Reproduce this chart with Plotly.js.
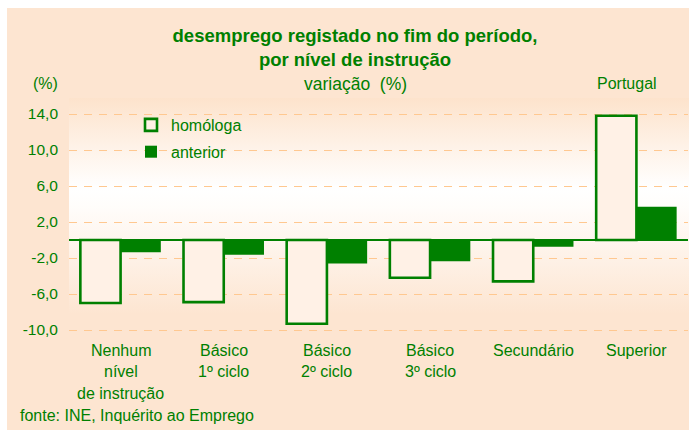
<!DOCTYPE html>
<html>
<head>
<meta charset="utf-8">
<script src="https://cdn.plot.ly/plotly-3.0.1.min.js"></script>
<style>
  html, body { margin: 0; padding: 0; background: #ffffff; }
  #wrap { position: relative; width: 689px; height: 430px; overflow: hidden; }
  #peach { position: absolute; left: 7px; top: 8px; right: 0; bottom: 0; background: #FDE5D1; }
  #grad { position: absolute; left: 69px; top: 98px; width: 620px; height: 216px;
          background: linear-gradient(to bottom, #FDE3CC 0%, #FFFFFF 42%, #FFFDFB 50%, #FDE5D1 100%); }
  #chart { position: absolute; left: 0; top: 0; width: 689px; height: 430px; }
</style>
</head>
<body>
<div id="wrap">
  <div id="peach"></div>
  <div id="grad"></div>
  <div id="chart"></div>
</div>
<script>
// ---- data ----
const categories = ["Nenhum<br>nível<br>de instrução", "Básico<br>1º ciclo", "Básico<br>2º ciclo", "Básico<br>3º ciclo", "Secundário", "Superior"];
const homologa = [-7.0, -6.9, -9.3, -4.2, -4.6, 13.8];
const anterior = [-1.35, -1.65, -2.6, -2.35, -0.75, 3.7];
const yTickVals = [-10, -6, -2, 2, 6, 10, 14];
const yTickText = ["-10,0", "-6,0", "-2,0", "2,0", "6,0", "10,0", "14,0"];
const seriesNames = ["homóloga", "anterior"];

const GREEN = "#008000";
const FONT = "Liberation Sans, Arial, sans-serif";
const W = 689, H = 430;
const M = { l: 69, r: 1, t: 105, b: 98 };
const PW = W - M.l - M.r, PH = H - M.t - M.b;
const px2x = (px) => (px - M.l) / PW;
const px2y = (py) => (H - M.b - py) / PH;

const idx = categories.map((c, i) => i);

const traces = [
  {
    type: "bar", name: seriesNames[0], x: idx, y: homologa,
    marker: { color: "#FFF1E6", line: { color: GREEN, width: 2.6 } },
    legendgroup: "a", hoverinfo: "skip"
  },
  {
    type: "bar", name: seriesNames[1], x: idx, y: anterior,
    marker: { color: GREEN, line: { color: GREEN, width: 0 } },
    legendgroup: "b", hoverinfo: "skip"
  }
];

// category labels: one annotation per text line, for the reference's line spacing
const catAnnotations = [];
categories.forEach((label, i) => {
  label.split("<br>").forEach((line, j) => {
    catAnnotations.push({
      text: line, x: i, xref: "x", y: px2y(350 + 21.7 * j), yref: "paper",
      showarrow: false, xanchor: "center", yanchor: "middle",
      font: { size: 16, color: GREEN, family: FONT }
    });
  });
});

const layout = {
  width: W, height: H,
  margin: M,
  paper_bgcolor: "rgba(0,0,0,0)",
  plot_bgcolor: "rgba(0,0,0,0)",
  font: { family: FONT, color: GREEN },
  barmode: "group", bargap: 0.22, bargroupgap: 0,
  title: {
    text: "<b>desemprego registado no fim do período,<br>por nível de instrução</b>",
    font: { size: 18.5, color: GREEN, family: FONT },
    xref: "container", yref: "container",
    x: 355 / W, xanchor: "center",
    y: 1 - 42 / H, yanchor: "top"
  },
  xaxis: {
    range: [-0.5, 5.5], automargin: false,
    tickmode: "array", tickvals: idx, showticklabels: false,
    showgrid: false, zeroline: false, showline: false, ticks: "",
    fixedrange: true
  },
  yaxis: {
    range: [-10.22, 15], automargin: false,
    tickmode: "array", tickvals: yTickVals, ticktext: yTickText,
    tickfont: { size: 15.5, color: GREEN },
    showgrid: true, gridcolor: "#FFC890", gridwidth: 1, griddash: "8px,7px",
    zeroline: true, zerolinecolor: GREEN, zerolinewidth: 1.3,
    showline: false, ticks: "", ticklabelstandoff: 10, fixedrange: true
  },
  legend: {
    xref: "paper", yref: "paper",
    x: px2x(131), xanchor: "left",
    y: px2y(108), yanchor: "top",
    bgcolor: "rgba(0,0,0,0)",
    font: { size: 16, color: GREEN },
    traceorder: "grouped", tracegroupgap: 3
  },
  showlegend: true,
  annotations: [
    { text: "(%)", x: px2x(45), y: px2y(84), xref: "paper", yref: "paper", showarrow: false,
      xanchor: "center", yanchor: "middle", font: { size: 16, color: GREEN } },
    { text: "variação  (%)", x: px2x(355), y: px2y(84), xref: "paper", yref: "paper", showarrow: false,
      xanchor: "center", yanchor: "middle", font: { size: 17.5, color: GREEN } },
    { text: "Portugal", x: px2x(627), y: px2y(84), xref: "paper", yref: "paper", showarrow: false,
      xanchor: "center", yanchor: "middle", font: { size: 16, color: GREEN } },
    { text: "fonte: INE, Inquérito ao Emprego", x: px2x(18), y: px2y(415), xref: "paper", yref: "paper", showarrow: false,
      xanchor: "left", yanchor: "middle", font: { size: 16, color: GREEN } }
  ].concat(catAnnotations)
};

Plotly.newPlot("chart", traces, layout, { staticPlot: true, displayModeBar: false });
</script>
</body>
</html>
